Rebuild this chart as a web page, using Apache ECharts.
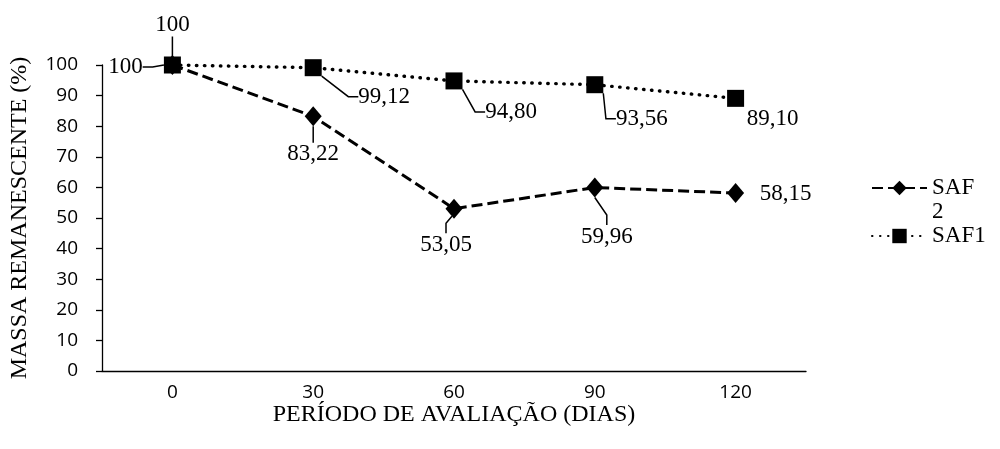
<!DOCTYPE html>
<html><head><meta charset="utf-8">
<script src="https://cdn.jsdelivr.net/npm/echarts@6/dist/echarts.min.js"></script>
<style>html,body{margin:0;padding:0;background:#fff}#c{width:1000px;height:449px}</style>
</head><body><div id="c"></div>
<script>
// ---- data ----
const categories = ['0', '30', '60', '90', '120'];
const saf2 = [100, 83.22, 53.05, 59.96, 58.15];
const saf1 = [100, 99.12, 94.80, 93.56, 89.10];
const yMin = 0, yMax = 100, yStep = 10;

// ---- label placement (styling) ----
const off2 = [[-47, 2], [0, 38], [-8, 36], [12, 49], [50, 1]];
const off1 = [[0, -40], [71, 29], [57, 31], [47, 34], [37, 21]];
const lead2 = [true, true, true, true, false];
const lead1 = [true, true, true, true, false];

const SERIF = "'Liberation Serif', 'Times New Roman', serif";
const SANS = "'Open Sans', sans-serif";
const fmt = v => (v === 100 ? '100' : v.toFixed(2).replace('.', ','));

const chart = echarts.init(document.getElementById('c'), null, {renderer: 'canvas'});
const labelCommon = {
  show: true, position: 'inside', color: '#000', fontFamily: SERIF, fontSize: 23,
  formatter: p => fmt(p.value)
};
const leaderCommon = {show: true, length2: 10, smooth: false, lineStyle: {color: '#000', width: 1.5}};

chart.setOption({
  animation: false,
  backgroundColor: '#fff',
  grid: {left: 100, right: 194, top: 65, bottom: 78, containLabel: false},
  legend: {
    data: ['SAF2', 'SAF1'], orient: 'vertical', left: 866, top: 147,
    itemWidth: 55, itemHeight: 18, itemGap: 0,
    textStyle: {fontFamily: SERIF, fontSize: 23, color: '#000', lineHeight: 24},
    formatter: n => (n === 'SAF2' ? '\nSAF\n2' : n)
  },
  xAxis: {
    type: 'category', data: categories, boundaryGap: true,
    axisLine: {lineStyle: {color: '#000', width: 1.3}},
    axisTick: {show: false},
    axisLabel: {fontFamily: SANS, fontSize: 19, color: '#000', margin: 12},
    name: 'PERÍODO DE AVALIAÇÃO (DIAS)', nameLocation: 'middle', nameGap: 32,
    nameMoveOverlap: false,
    nameTextStyle: {fontFamily: SERIF, fontSize: 24, color: '#000'}
  },
  yAxis: {
    type: 'value', min: yMin, max: yMax, interval: yStep,
    axisLine: {show: true, lineStyle: {color: '#000', width: 1.3}},
    axisTick: {show: true, length: 6, lineStyle: {color: '#000', width: 1.3}},
    splitLine: {show: false},
    axisLabel: {fontFamily: SANS, fontSize: 19, color: '#000', margin: 24},
    name: 'MASSA REMANESCENTE (%)', nameLocation: 'middle', nameGap: 70,
    nameMoveOverlap: false,
    nameTextStyle: {fontFamily: SERIF, fontSize: 24, color: '#000'}
  },
  series: [
    {
      name: 'SAF2', type: 'line',
      data: saf2.map((v, i) => ({value: v, labelLine: {show: lead2[i]}})),
      symbol: 'diamond', symbolSize: [17, 20],
      itemStyle: {color: '#000'},
      lineStyle: {color: '#000', width: 3, type: [11, 5]},
      label: labelCommon, labelLine: leaderCommon,
      labelLayout: p => ({dx: off2[p.dataIndex][0], dy: off2[p.dataIndex][1]})
    },
    {
      name: 'SAF1', type: 'line',
      data: saf1.map((v, i) => ({value: v, labelLine: {show: lead1[i]}})),
      symbol: 'rect', symbolSize: 17,
      itemStyle: {color: '#000'},
      lineStyle: {color: '#000', width: 3.4, type: [0.5, 7.5], cap: 'round'},
      label: labelCommon, labelLine: leaderCommon,
      labelLayout: p => ({dx: off1[p.dataIndex][0], dy: off1[p.dataIndex][1]})
    }
  ]
});
</script>
</body></html>
